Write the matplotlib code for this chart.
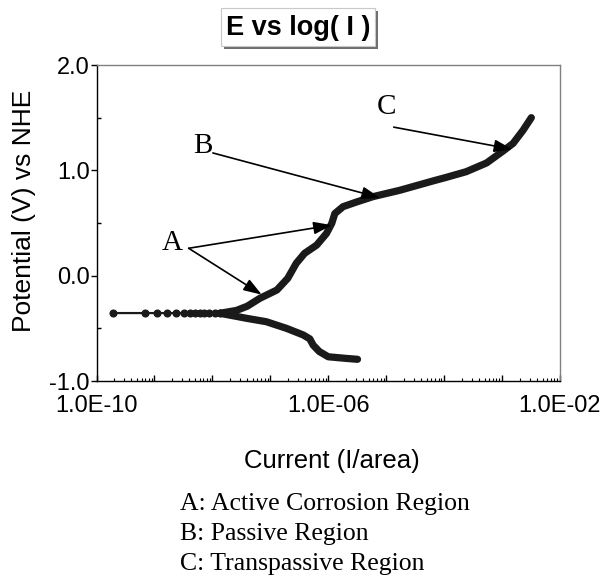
import math
import matplotlib
matplotlib.use('Agg')
import matplotlib.pyplot as plt
from matplotlib.patches import Rectangle
from matplotlib.ticker import LogLocator, FuncFormatter, NullFormatter, FixedLocator, MultipleLocator

# ---------------- data ----------------
# points near the corrosion potential (sparse dots)
ecorr_current = [1.95e-10, 6.9e-10, 1.1e-9, 1.66e-9, 2.35e-9, 3.2e-9, 4.1e-9,
                 5.0e-9, 6.0e-9, 7.2e-9, 8.9e-9, 1.1e-8, 1.35e-8]
ecorr_potential = [-0.355, -0.355, -0.355, -0.355, -0.355, -0.355, -0.355,
                   -0.355, -0.356, -0.356, -0.356, -0.357, -0.357]

# anodic branch
anodic_current = [1.35e-8, 2.6e-8, 4.0e-8, 6.6e-8, 1.3e-7, 2.0e-7, 2.8e-7, 3.9e-7,
                  6.3e-7, 9.3e-7, 1.15e-6, 1.3e-6, 1.8e-6, 3.1e-6, 5.9e-6, 1.7e-5,
                  6.5e-5, 1.1e-4, 2.4e-4, 5.4e-4, 1.02e-3, 1.55e-3, 2.3e-3, 3.2e-3]
anodic_potential = [-0.357, -0.33, -0.29, -0.215, -0.136, -0.025, 0.117, 0.212,
                    0.29, 0.40, 0.497, 0.59, 0.655, 0.70, 0.75, 0.81,
                    0.90, 0.934, 0.987, 1.07, 1.18, 1.256, 1.38, 1.50]

# cathodic branch
cathodic_current = [1.35e-8, 3.9e-8, 8.5e-8, 1.9e-7, 3.7e-7, 4.8e-7, 5.5e-7,
                    7.0e-7, 1.0e-6, 2.0e-6, 3.2e-6]
cathodic_potential = [-0.357, -0.405, -0.437, -0.50, -0.563, -0.60, -0.66,
                      -0.72, -0.77, -0.785, -0.794]

x_tick_values = [1e-10, 1e-6, 1e-2]
x_tick_labels = ['1.0E-10', '1.0E-06', '1.0E-02']
y_tick_values = [-1.0, 0.0, 1.0, 2.0]
y_tick_labels = ['-1.0', '0.0', '1.0', '2.0']

title_text = 'E vs log( I )'
x_label = 'Current (I/area)'
y_label = 'Potential (V) vs NHE'
region_letters = ['A', 'B', 'C']
region_notes = ['A: Active Corrosion Region', 'B: Passive Region',
                'C: Transpassive Region']

# ---------------- figure ----------------
W, H = 605, 575
fig = plt.figure(figsize=(W / 100, H / 100), dpi=100)
fig.patch.set_facecolor('white')

ax_left, ax_right, ax_top, ax_bottom = 96.5, 560, 65, 381
ax = fig.add_axes([ax_left / W, 1 - ax_bottom / H,
                   (ax_right - ax_left) / W, (ax_bottom - ax_top) / H])
ax.set_xscale('log')
ax.set_xlim(1e-10, 1e-2)
ax.set_ylim(-1.0, 2.0)

curve_color = '#1a1a1a'
ax.plot(cathodic_current, cathodic_potential, color=curve_color, lw=5.2,
        solid_capstyle='round', solid_joinstyle='round', zorder=3)
ax.plot(anodic_current, anodic_potential, color=curve_color, lw=5.2,
        solid_capstyle='round', solid_joinstyle='round', zorder=3)
ax.plot(ecorr_current, ecorr_potential, color=curve_color, lw=1.6,
        marker='o', ms=4.8, zorder=3)

sans = ['Liberation Sans', 'DejaVu Sans']
serif = ['Liberation Serif', 'DejaVu Serif']

# ticks
ax.xaxis.set_major_locator(LogLocator(base=10, numticks=20))
label_map = {round(math.log10(v)): t for v, t in zip(x_tick_values, x_tick_labels)}


def xfmt(v, pos):
    return label_map.get(round(math.log10(v)), '')


ax.xaxis.set_major_formatter(FuncFormatter(xfmt))
ax.xaxis.set_minor_locator(LogLocator(base=10, subs=range(2, 10), numticks=100))
ax.xaxis.set_minor_formatter(NullFormatter())
ax.yaxis.set_major_locator(FixedLocator(y_tick_values))
ax.set_yticklabels(y_tick_labels)
ax.yaxis.set_minor_locator(MultipleLocator(0.5))

ax.tick_params(axis='x', which='major', direction='in', length=4, width=1, pad=10,
               labelsize=17)
ax.tick_params(axis='x', which='minor', direction='in', length=2.5, width=0.8)
ax.tick_params(axis='y', which='major', direction='out', length=4, width=1, pad=1,
               labelsize=17)
ax.tick_params(axis='y', which='minor', direction='in', length=3, width=1)
for lab in ax.get_xticklabels() + ax.get_yticklabels():
    lab.set_fontfamily(sans)

for s in ['left', 'bottom']:
    ax.spines[s].set_color('black')
    ax.spines[s].set_linewidth(1.0)
for s in ['top', 'right']:
    ax.spines[s].set_color('#808080')
    ax.spines[s].set_linewidth(1.0)

ax.set_xlabel(x_label, fontsize=18.5, family=sans)
ax.set_ylabel(y_label, fontsize=19, family=sans)
ax.xaxis.set_label_coords((332 - ax_left) / (ax_right - ax_left),
                          -(461 - ax_bottom) / (ax_bottom - ax_top))
ax.yaxis.set_label_coords(-(ax_left - 24) / (ax_right - ax_left),
                          (ax_bottom - 211) / (ax_bottom - ax_top))
ax.xaxis.label.set_va('center')
ax.yaxis.label.set_va('center')

# annotations
arrow_kw = dict(arrowstyle='-|>,head_length=1.1,head_width=0.38', mutation_scale=10,
                color='black', lw=1.2, shrinkA=0, shrinkB=0)
ax.text(2.0e-9, 0.31, region_letters[0], fontsize=21, family=serif,
        ha='center', va='center')
ax.annotate('', xy=(1.15e-6, 0.48), xytext=(3.9e-9, 0.26), arrowprops=arrow_kw)
ax.annotate('', xy=(7.1e-8, -0.18), xytext=(3.9e-9, 0.26), arrowprops=arrow_kw)
ax.text(6.9e-9, 1.23, region_letters[1], fontsize=21, family=serif,
        ha='center', va='center')
ax.annotate('', xy=(7.8e-6, 0.74), xytext=(1.02e-8, 1.165), arrowprops=arrow_kw)
ax.text(1.02e-5, 1.60, region_letters[2], fontsize=21, family=serif,
        ha='center', va='center')
ax.annotate('', xy=(1.5e-3, 1.20), xytext=(1.35e-5, 1.41), arrowprops=arrow_kw)

# title box with shadow
bx0, by0, bx1, by1 = 221, 8, 375, 46
sh = 3
fig.patches.append(Rectangle(((bx0 + sh) / W, 1 - (by1 + sh) / H),
                             (bx1 - bx0) / W, (by1 - by0) / H, transform=fig.transFigure,
                             facecolor='#6e6e6e', edgecolor='none', zorder=1))
fig.patches.append(Rectangle((bx0 / W, 1 - by1 / H), (bx1 - bx0) / W, (by1 - by0) / H,
                             transform=fig.transFigure, facecolor='white',
                             edgecolor='#c8c8c8', lw=0.8, zorder=2))
fig.text((bx0 + bx1) / 2 / W, 1 - 28 / H, title_text, fontsize=19.5, fontweight='bold',
         family=sans, ha='center', va='center', zorder=3)

# notes below
for i, note in enumerate(region_notes):
    fig.text(180 / W, 1 - (510 + 30 * i) / H, note, fontsize=18.5, family=serif,
             ha='left', va='baseline')

fig.savefig('out.png', dpi=100, facecolor='white')
